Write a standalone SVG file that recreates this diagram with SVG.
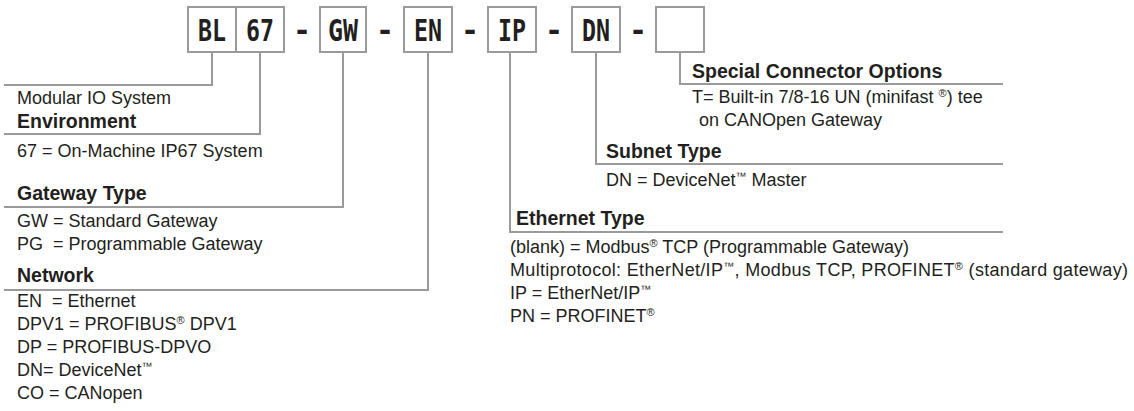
<svg xmlns="http://www.w3.org/2000/svg" width="1134" height="411" viewBox="0 0 1134 411">
<style>
.box{fill:#fff;stroke:#9a9a9a;stroke-width:2}
.code{font-family:"DejaVu Sans Mono",monospace;font-weight:bold;font-size:30px;fill:#231f20;text-anchor:middle}
.dash{font-family:"DejaVu Sans Mono",monospace;font-weight:bold;font-size:30px;fill:#231f20;text-anchor:middle}
.ln{fill:none;stroke:#9a9a9a;stroke-width:2}
.t{font-family:"Liberation Sans",Arial,sans-serif;font-size:18px;fill:#231f20}
.h{font-family:"Liberation Sans",Arial,sans-serif;font-size:19.5px;font-weight:bold;fill:#231f20}
.sup{font-size:11px}
</style>
<rect width="1134" height="411" fill="#fff"/>
<g id="code-row">
  <g id="box-bl"><rect class="box" x="188" y="7" width="48" height="45"/><text class="code" x="212" y="41" textLength="28" lengthAdjust="spacingAndGlyphs">BL</text></g>
  <g id="box-67"><rect class="box" x="236" y="7" width="48" height="45"/><text class="code" x="260" y="41" textLength="28" lengthAdjust="spacingAndGlyphs">67</text></g>
  <text class="dash" x="302" y="41">-</text>
  <g id="box-gw"><rect class="box" x="320" y="7" width="46" height="45"/><text class="code" x="343" y="41" textLength="30" lengthAdjust="spacingAndGlyphs">GW</text></g>
  <text class="dash" x="385" y="41">-</text>
  <g id="box-en"><rect class="box" x="404" y="7" width="48" height="45"/><text class="code" x="428" y="41" textLength="28" lengthAdjust="spacingAndGlyphs">EN</text></g>
  <text class="dash" x="470" y="41">-</text>
  <g id="box-ip"><rect class="box" x="488" y="7" width="48" height="45"/><text class="code" x="512" y="41" textLength="28" lengthAdjust="spacingAndGlyphs">IP</text></g>
  <text class="dash" x="554" y="41">-</text>
  <g id="box-dn"><rect class="box" x="572" y="7" width="48" height="45"/><text class="code" x="596" y="41" textLength="28" lengthAdjust="spacingAndGlyphs">DN</text></g>
  <text class="dash" x="638" y="41">-</text>
  <g id="box-blank"><rect class="box" x="656" y="7" width="48" height="45"/></g>
</g>
<g id="connectors">
  <polyline class="ln" points="212,52 212,85 4,85"/>
  <polyline class="ln" points="260,52 260,134 4,134"/>
  <polyline class="ln" points="343,52 343,207 4,207"/>
  <polyline class="ln" points="428,52 428,290 4,290"/>
  <polyline class="ln" points="510,52 510,232 1003,232"/>
  <polyline class="ln" points="596,52 596,164 1003,164"/>
  <polyline class="ln" points="680,52 680,84 1003,84"/>
</g>
<g id="system">
  <text class="t" x="17" y="104">Modular IO System</text>
</g>
<g id="environment">
  <text class="h" x="17" y="128">Environment</text>
  <text class="t" x="17" y="157">67 = On-Machine IP67 System</text>
</g>
<g id="gateway-type">
  <text class="h" x="17" y="200">Gateway Type</text>
  <text class="t" x="17" y="227">GW = Standard Gateway</text>
  <text class="t" x="17" y="250" xml:space="preserve">PG  = Programmable Gateway</text>
</g>
<g id="network">
  <text class="h" x="17" y="282">Network</text>
  <text class="t" x="17" y="307" xml:space="preserve">EN  = Ethernet</text>
  <text class="t" x="17" y="330">DPV1 = PROFIBUS<tspan class="sup" dy="-6">®</tspan><tspan dy="6"> DPV1</tspan></text>
  <text class="t" x="17" y="353">DP = PROFIBUS-DPVO</text>
  <text class="t" x="17" y="376">DN= DeviceNet<tspan class="sup" dy="-6">™</tspan></text>
  <text class="t" x="17" y="399">CO = CANopen</text>
</g>
<g id="special-connector">
  <text class="h" x="692" y="78">Special Connector Options</text>
  <text class="t" x="692" y="103">T= Built-in 7/8-16 UN (minifast <tspan class="sup" dy="-6">®</tspan><tspan dy="6">) tee</tspan></text>
  <text class="t" x="699" y="126">on CANOpen Gateway</text>
</g>
<g id="subnet-type">
  <text class="h" x="606" y="158">Subnet Type</text>
  <text class="t" x="606" y="186">DN = DeviceNet<tspan class="sup" dy="-6">™</tspan><tspan dy="6"> Master</tspan></text>
</g>
<g id="ethernet-type">
  <text class="h" x="516" y="225">Ethernet Type</text>
  <text class="t" x="510" y="253">(blank) = Modbus<tspan class="sup" dy="-6">®</tspan><tspan dy="6"> TCP (Programmable Gateway)</tspan></text>
  <text class="t" x="510" y="276" textLength="618">Multiprotocol: EtherNet/IP<tspan class="sup" dy="-6">™</tspan><tspan dy="6">, Modbus TCP, PROFINET</tspan><tspan class="sup" dy="-6">®</tspan><tspan dy="6"> (standard gateway)</tspan></text>
  <text class="t" x="510" y="299">IP = EtherNet/IP<tspan class="sup" dy="-6">™</tspan></text>
  <text class="t" x="510" y="322">PN = PROFINET<tspan class="sup" dy="-6">®</tspan></text>
</g>
</svg>
